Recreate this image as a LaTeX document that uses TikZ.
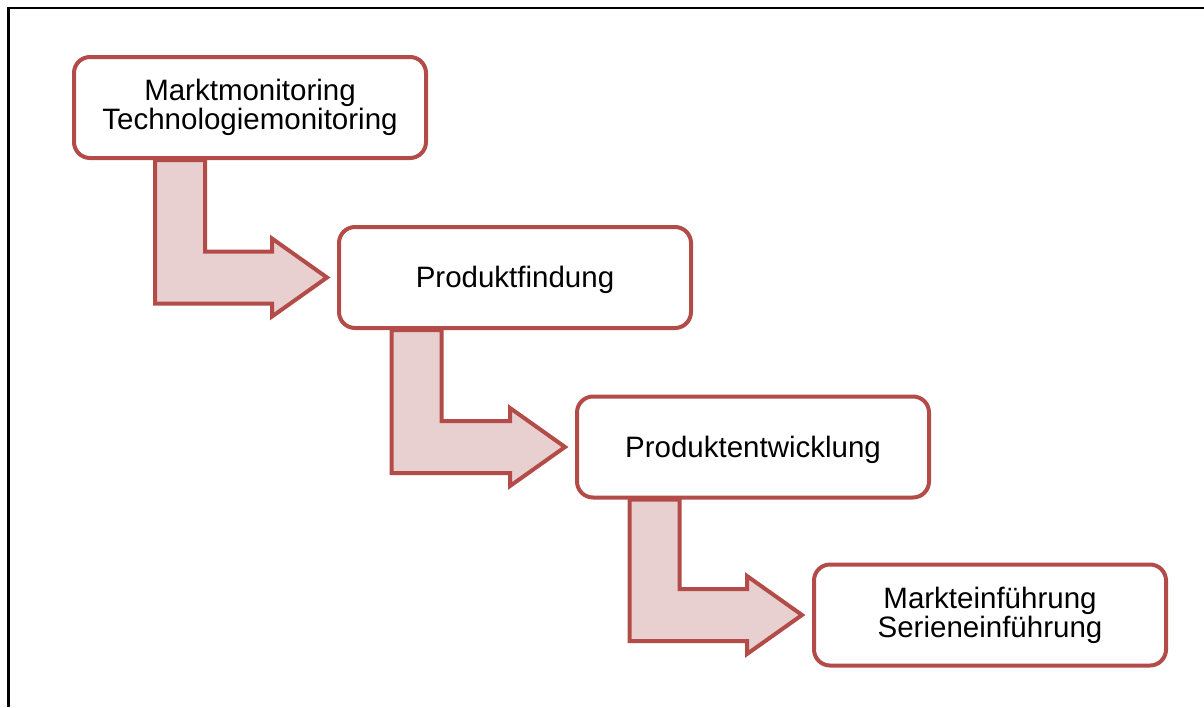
\documentclass[tikz,border=0pt]{standalone}
\usepackage{fontspec}
\setmainfont{Liberation Sans}
\usetikzlibrary{calc,backgrounds}

\definecolor{stageborder}{RGB}{179,76,72}
\definecolor{flowfill}{RGB}{232,208,208}

\tikzset{
  stage/.style={draw=stageborder, line width=4pt, fill=white, rounded corners=16pt,
    minimum width=352pt, minimum height=101pt, inner sep=0pt, align=center,
    font=\fontsize{29.5}{29}\selectfont,
    % line box from full font ascent to descent, so the text sits centred on it
    execute at begin node={\rule{0pt}{0.905em}},
    execute at end node={\rule[-0.212em]{0pt}{0pt}}},
  flow/.style={draw=stageborder, fill=flowfill, line width=4pt, line join=miter},
  frameline/.style={draw=black, line width=2.2pt}
}

% bent block arrow: #1 source stage, #2 target stage,
% #3 horizontal offset of the vertical bar from the source centre
\newcommand{\stageflow}[3]{%
  \coordinate (bar) at ($(#1.south)+(#3,0)$);
  \coordinate (tip) at ($(#2.west)+(-10,0)$);
  \coordinate (bend) at (bar |- tip);
  \draw[flow] ($(bar)+(-25,0)$) -- ($(bar)+(25,0)$) -- ($(bend)+(25,-26)$)
    -- ($(tip)+(-55,-26)$) -- ($(tip)+(-55,-39)$) -- (tip)
    -- ($(tip)+(-55,39)$) -- ($(tip)+(-55,26)$) -- ($(bend)+(-25,26)$) -- cycle;
}

\begin{document}
\begin{tikzpicture}[x=1pt,y=-1pt]
  \useasboundingbox (0,0) rectangle (1204,707);

  % stages
  \node[stage] (s1) at (250,107.5) {Marktmonitoring\\Technologiemonitoring};
  \node[stage] (s2) at (515,277.5) {Produktfindung};
  \node[stage] (s3) at (753,447)   {Produktentwicklung};
  \node[stage] (s4) at (990,615)   {Markteinführung\\Serieneinführung};

  \begin{scope}[on background layer]
    % outer frame (top and left edges)
    \draw[frameline] (8.5,707) -- (8.5,8) -- (1204,8);
    % flow arrows between the stages
    \stageflow{s1}{s2}{-70}
    \stageflow{s2}{s3}{-98.5}
    \stageflow{s3}{s4}{-98.5}
  \end{scope}
\end{tikzpicture}
\end{document}
